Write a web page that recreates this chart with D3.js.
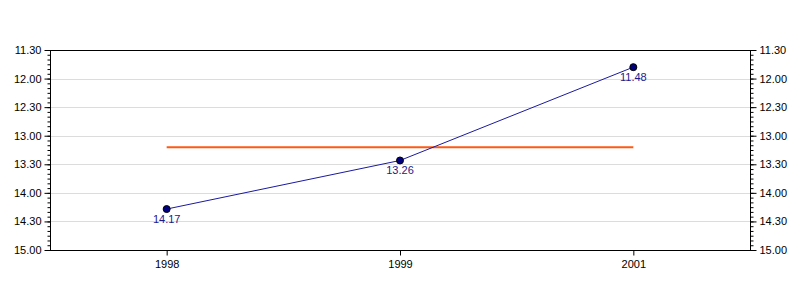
<!DOCTYPE html>
<html><head><meta charset="utf-8">
<script src="https://cdn.jsdelivr.net/npm/d3@7"></script>
<style>body{margin:0;background:#fff}svg{display:block;font-family:"Liberation Sans",Arial,sans-serif}</style>
</head><body>
<svg id="c" width="800" height="300"></svg>
<script>
const years = ["1998", "1999", "2001"];
const times = ["14.17", "13.26", "11.48"];
const target = "13.12";
const yTickLabels = ["11.30","12.00","12.30","13.00","13.30","14.00","14.30","15.00"];

const toMin = s => { const [m, sec] = s.split(".").map(Number); return m + sec / 60; };
const fmt = v => { const m = Math.floor(v + 1e-9); const s = Math.round((v - m) * 60); return m + "." + String(s).padStart(2, "0"); };

const svg = d3.select("#c");
const L = 50, R = 750, T = 50, B = 250;
const yTicks = yTickLabels.map(toMin);
const y = d3.scaleLinear().domain([yTicks[0], yTicks[yTicks.length - 1]]).range([T, B]);
const x = d3.scalePoint().domain(years).range([L, R]).padding(0.5);

// gridlines
svg.append("g").selectAll("line").data(yTicks.slice(1, -1)).join("line")
  .attr("x1", L).attr("x2", R).attr("y1", d => Math.round(y(d)) + 0.5).attr("y2", d => Math.round(y(d)) + 0.5)
  .attr("stroke", "#dcdcdc").attr("stroke-width", 1);

const minor = d3.range(0, 43).map(i => yTicks[0] + i * 5 / 60).filter(v => v <= yTicks[yTicks.length-1] + 1e-6);

function yAxis(g, side) {
  const ax = (side === "left" ? d3.axisLeft(y) : d3.axisRight(y))
    .tickValues(yTicks).tickFormat(fmt).tickSize(6).tickPadding(3);
  g.call(ax);
  g.select(".domain").remove();
  g.selectAll("text").attr("font-size", 11).attr("fill", "#000").attr("font-family", "Liberation Sans, Arial, sans-serif");
  g.selectAll(".tick line").attr("stroke", "#000");
  const mAx = (side === "left" ? d3.axisLeft(y) : d3.axisRight(y)).tickValues(minor).tickSize(3).tickFormat("");
  g.append("g").call(mAx).call(s => s.select(".domain").remove()).selectAll("line").attr("stroke", "#000");
}
svg.append("g").attr("transform", `translate(${L + 0.5},0)`).call(g => yAxis(g, "left"));
svg.append("g").attr("transform", `translate(${R + 0.5},0)`).call(g => yAxis(g, "right"));

// frame lines
svg.append("line").attr("x1", L + 0.5).attr("x2", L + 0.5).attr("y1", T).attr("y2", B + 0.5).attr("stroke", "#000");
svg.append("line").attr("x1", R + 0.5).attr("x2", R + 0.5).attr("y1", T).attr("y2", B + 0.5).attr("stroke", "#000");
svg.append("line").attr("x1", L).attr("x2", R + 1).attr("y1", T + 0.5).attr("y2", T + 0.5).attr("stroke", "#000");

// x axis
const xa = svg.append("g").attr("transform", `translate(0,${B + 0.5})`)
  .call(d3.axisBottom(x).tickSize(5).tickPadding(5).tickSizeOuter(0));
xa.select(".domain").attr("d", `M${L},0H${R + 1}`).attr("stroke", "#000");
xa.selectAll(".tick line").attr("stroke", "#000");
xa.selectAll("text").attr("font-size", 11).attr("fill", "#000").attr("font-family", "Liberation Sans, Arial, sans-serif");

// target line
svg.append("line")
  .attr("x1", x(years[0])).attr("x2", x(years[years.length - 1]))
  .attr("y1", y(toMin(target))).attr("y2", y(toMin(target)))
  .attr("stroke", "#ff5a14").attr("stroke-width", 2);

// series
const data = years.map((yr, i) => ({ yr, v: toMin(times[i]), label: times[i] }));
svg.append("path").datum(data)
  .attr("d", d3.line().x(d => x(d.yr)).y(d => y(d.v)))
  .attr("fill", "none").attr("stroke", "#1a1aa0").attr("stroke-width", 1);
svg.append("g").selectAll("circle").data(data).join("circle")
  .attr("cx", d => x(d.yr)).attr("cy", d => y(d.v)).attr("r", 3.5)
  .attr("fill", "#000080").attr("stroke", "#000").attr("stroke-width", 1);
svg.append("g").selectAll("text").data(data).join("text")
  .attr("x", d => x(d.yr)).attr("y", d => y(d.v) + 14)
  .attr("text-anchor", "middle").attr("font-size", 11).attr("fill", "#1a1a8c")
  .text(d => d.label);
</script>
</body></html>
